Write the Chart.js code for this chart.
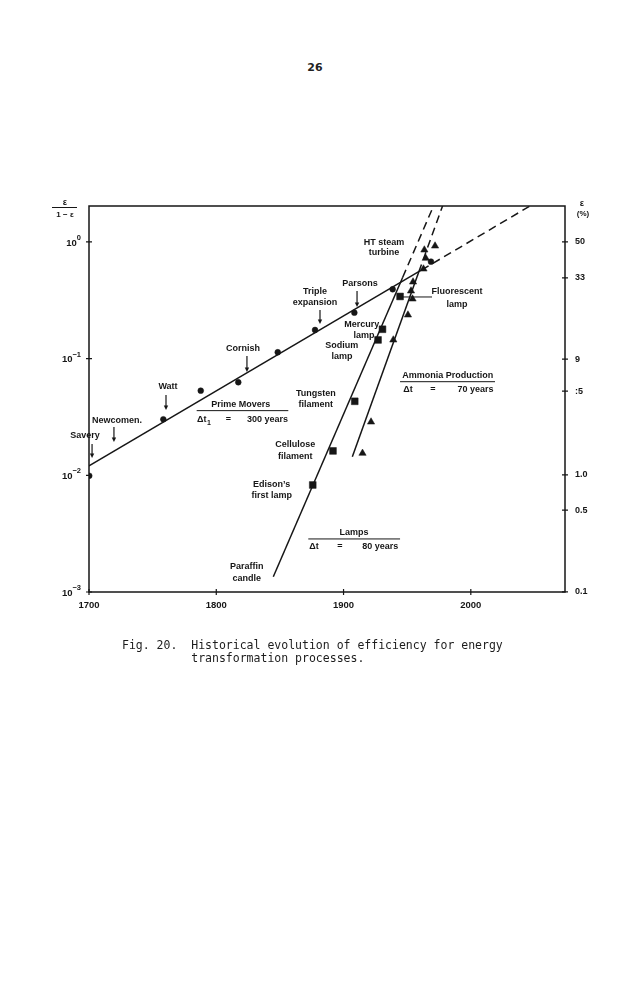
<!DOCTYPE html>
<html>
<head>
<meta charset="utf-8">
<title>Fig. 20</title>
<script src="https://cdn.jsdelivr.net/npm/chart.js@4.4.1/dist/chart.umd.min.js"></script>
<style>
  html, body { margin: 0; padding: 0; background: #fff; }
  body { width: 638px; height: 1000px; position: relative; overflow: hidden; }
  #chart { position: absolute; left: 0; top: 0; }
  .page-num {
    position: absolute; top: 61px; left: 0; width: 630px; text-align: center;
    font: bold 11px "DejaVu Sans", sans-serif; color: #222;
  }
  .caption {
    position: absolute; left: 122px; top: 639px; margin: 0;
    font: 11.5px/13.3px "DejaVu Sans Mono", monospace; color: #1c1c1c; white-space: pre;
  }
</style>
</head>
<body>
<div class="page-num">26</div>
<canvas id="chart" width="638" height="1000"></canvas>
<pre class="caption">Fig. 20.  Historical evolution of efficiency for energy
          transformation processes.</pre>
<script>
"use strict";

const INK = "#161616";
const FONT = "'Liberation Sans', Arial, sans-serif";

// Prime movers (circles): year, efficiency ratio e/(1-e)
const primeYears = [1700.2, 1758.4, 1787.8, 1817.3, 1848.3, 1877.6, 1908.5, 1938.6, 1968.7];
const primeValues = [0.0099, 0.0302, 0.0531, 0.0627, 0.1133, 0.1759, 0.2475, 0.3927, 0.6771];

// Lamps (squares)
const lampYears = [1875.8, 1891.7, 1908.8, 1927.1, 1930.6, 1944.4];
const lampValues = [0.00826, 0.01618, 0.04306, 0.1445, 0.1784, 0.3407];

// Ammonia production (triangles)
const ammoniaYears = [1914.9, 1921.6, 1939.1, 1950.6, 1954.2, 1953.0, 1954.6, 1962.8, 1964.6, 1963.5, 1971.9];
const ammoniaValues = [0.01545, 0.02864, 0.1445, 0.2366, 0.3243, 0.38, 0.4538, 0.5861, 0.7244, 0.8531, 0.9226];

// Trend lines: start, end of solid part, end of dashed extrapolation
const primeFitYears = [1700, 1961.4, 2046.5];
const primeFitValues = [0.01202, 0.575, 2.03];
const lampFitYears = [1844.8, 1946.5, 1970.7];
const lampFitValues = [0.001352, 0.498, 2.03];
const ammoniaFitYears = [1906.9, 1959.1, 1977.8];
const ammoniaFitValues = [0.01445, 0.552, 2.03];

// Axes
const yearTicks = [1700, 1800, 1900, 2000];
const ratioTicks = [1, 0.1, 0.01, 0.001];
const ratioExponents = ["0", "\u22121", "\u22122", "\u22123"];
const percentTicks = [50, 33, 9, 5, 1, 0.5, 0.1];
const percentLabels = ["50", "33", "9", ":5", "1.0", "0.5", "0.1"];

// Text annotations, placed in data coordinates (year, ratio)
const notes = [
  { text: "Savery", x: 1696.9, y: 0.02173 },
  { text: "Newcomen.", x: 1722.0, y: 0.02924 },
  { text: "Watt", x: 1762.1, y: 0.05715 },
  { text: "Cornish", x: 1821.0, y: 0.121 },
  { text: "Triple", x: 1877.6, y: 0.3724 },
  { text: "expansion", x: 1877.6, y: 0.2999 },
  { text: "Parsons", x: 1912.9, y: 0.4363 },
  { text: "HT steam", x: 1931.8, y: 0.9795 },
  { text: "turbine", x: 1931.8, y: 0.8039 },
  { text: "Fluorescent", x: 1989.2, y: 0.3724 },
  { text: "lamp", x: 1989.2, y: 0.2884 },
  { text: "Mercury", x: 1914.3, y: 0.1941 },
  { text: "lamp", x: 1916.1, y: 0.1573 },
  { text: "Sodium", x: 1898.6, y: 0.1283 },
  { text: "lamp", x: 1898.8, y: 0.1039 },
  { text: "Ammonia Production", x: 1981.8, y: 0.07145 },
  { text: "\u0394t", x: 1950.6, y: 0.05383 },
  { text: "=", x: 1970.1, y: 0.05383 },
  { text: "70 years", x: 2003.7, y: 0.05383 },
  { text: "Tungsten", x: 1878.2, y: 0.04977 },
  { text: "filament", x: 1878.2, y: 0.04009 },
  { text: "Prime Movers", x: 1819.3, y: 0.04009 },
  { text: "\u0394t", sub: "1", x: 1788.6, y: 0.02979 },
  { text: "=", x: 1809.5, y: 0.02979 },
  { text: "300 years", x: 1840.3, y: 0.02979 },
  { text: "Cellulose", x: 1862.0, y: 0.0182 },
  { text: "filament", x: 1862.0, y: 0.01445 },
  { text: "Edison\u2019s", x: 1843.5, y: 0.008265 },
  { text: "first lamp", x: 1843.5, y: 0.006653 },
  { text: "Paraffin", x: 1823.9, y: 0.001648 },
  { text: "candle", x: 1823.9, y: 0.001312 },
  { text: "Lamps", x: 1908.2, y: 0.003225 },
  { text: "\u0394t", x: 1876.8, y: 0.002449 },
  { text: "=", x: 1897.2, y: 0.002449 },
  { text: "80 years", x: 1928.9, y: 0.002449 },
];

// Downward arrows pointing at the prime movers line
const arrows = [
  { x: 1702.4, from: 0.01858, to: 0.01409 },
  { x: 1719.6, from: 0.02594, to: 0.01932 },
  { x: 1760.5, from: 0.04875, to: 0.03631 },
  { x: 1824.1, from: 0.1054, to: 0.07684 },
  { x: 1881.5, from: 0.2612, to: 0.1982 },
  { x: 1910.6, from: 0.38, to: 0.2772 },
];

// Horizontal rules (fraction bars and the fluorescent leader)
const rules = [
  { from: 1944.4, to: 2019.0, y: 0.06339 },
  { from: 1784.6, to: 1856.6, y: 0.03581 },
  { from: 1872.3, to: 1944.4, y: 0.002848 },
  { from: 1946.7, to: 1969.5, y: 0.3373 },
];

function toPoints(xs, ys) {
  return xs.map((x, i) => ({ x, y: ys[i] }));
}

function fitLine(xs, ys) {
  return {
    type: "line",
    data: toPoints(xs, ys),
    borderColor: INK,
    borderWidth: 1.5,
    pointRadius: 0,
    fill: false,
    tension: 0,
    segment: {
      borderDash: (ctx) => (ctx.p0DataIndex >= 1 ? [8, 5] : undefined),
    },
  };
}

function markers(xs, ys, style, radius) {
  return {
    type: "scatter",
    data: toPoints(xs, ys),
    pointStyle: style,
    pointRadius: radius,
    backgroundColor: INK,
    borderColor: INK,
    borderWidth: 0.5,
  };
}

const annotationPlugin = {
  id: "annotations",
  afterDraw(chart) {
    const { ctx, chartArea: area, scales } = chart;
    const sx = scales.x;
    const sy = scales.y;
    const sr = scales.y2;
    const px = (v) => sx.getPixelForValue(v);
    const py = (v) => sy.getPixelForValue(v);

    ctx.save();
    ctx.strokeStyle = INK;
    ctx.fillStyle = INK;

    // frame
    ctx.lineWidth = 1.5;
    ctx.strokeRect(area.left, area.top, area.right - area.left, area.bottom - area.top);

    // tick marks crossing the axes
    ctx.lineWidth = 1.2;
    ctx.beginPath();
    sx.ticks.forEach((t) => {
      const x = px(t.value);
      ctx.moveTo(x, area.bottom - 3);
      ctx.lineTo(x, area.bottom + 3);
    });
    sy.ticks.forEach((t) => {
      const y = py(t.value);
      ctx.moveTo(area.left - 3, y);
      ctx.lineTo(area.left + 3, y);
    });
    sr.ticks.forEach((t) => {
      const y = sr.getPixelForValue(t.value);
      ctx.moveTo(area.right - 3, y);
      ctx.lineTo(area.right + 3, y);
    });
    ctx.stroke();

    // left tick labels: 10 with superscript exponent
    ctx.textBaseline = "middle";
    sy.ticks.forEach((t, i) => {
      const y = py(t.value);
      const exp = ratioExponents[i];
      ctx.font = "bold 7.5px " + FONT;
      const ew = ctx.measureText(exp).width;
      const right = area.left - 8;
      ctx.textAlign = "left";
      ctx.fillText(exp, right - ew, y - 4);
      ctx.font = "bold 9.5px " + FONT;
      ctx.textAlign = "right";
      ctx.fillText("10", right - ew, y + 1);
    });

    // axis headers
    ctx.textAlign = "center";
    ctx.font = "bold 9px " + FONT;
    ctx.fillText("\u03b5", area.left - 24, area.top - 3);
    ctx.font = "bold 8px " + FONT;
    ctx.fillText("1 \u2212 \u03b5", area.left - 24, area.top + 9);
    ctx.lineWidth = 1;
    ctx.beginPath();
    ctx.moveTo(area.left - 37, area.top + 1.5);
    ctx.lineTo(area.left - 12, area.top + 1.5);
    ctx.stroke();
    ctx.font = "bold 9px " + FONT;
    ctx.fillText("\u03b5", area.right + 17, area.top - 2);
    ctx.font = "bold 8px " + FONT;
    ctx.fillText("(%)", area.right + 18, area.top + 8);

    // annotations
    ctx.font = "bold 9px " + FONT;
    notes.forEach((n) => {
      const x = px(n.x);
      const y = py(n.y);
      if (n.sub) {
        const w = ctx.measureText(n.text).width;
        ctx.textAlign = "right";
        ctx.fillText(n.text, x + w / 2, y);
        ctx.font = "bold 7px " + FONT;
        ctx.textAlign = "left";
        ctx.fillText(n.sub, x + w / 2 + 0.5, y + 3);
        ctx.font = "bold 9px " + FONT;
      } else {
        ctx.textAlign = "center";
        ctx.fillText(n.text, x, y);
      }
    });

    // arrows
    ctx.lineWidth = 1.2;
    arrows.forEach((a) => {
      const x = px(a.x);
      const y0 = py(a.from);
      const y1 = py(a.to);
      ctx.beginPath();
      ctx.moveTo(x, y0);
      ctx.lineTo(x, y1 - 3);
      ctx.stroke();
      ctx.beginPath();
      ctx.moveTo(x - 2.2, y1 - 4.5);
      ctx.lineTo(x + 2.2, y1 - 4.5);
      ctx.lineTo(x, y1);
      ctx.closePath();
      ctx.fill();
    });

    // rules
    ctx.lineWidth = 1;
    ctx.beginPath();
    rules.forEach((r) => {
      const y = py(r.y);
      ctx.moveTo(px(r.from), y);
      ctx.lineTo(px(r.to), y);
    });
    ctx.stroke();

    ctx.restore();
  },
};

const chart = new Chart(document.getElementById("chart"), {
  type: "scatter",
  data: {
    datasets: [
      fitLine(primeFitYears, primeFitValues),
      fitLine(lampFitYears, lampFitValues),
      fitLine(ammoniaFitYears, ammoniaFitValues),
      markers(primeYears, primeValues, "circle", 2.9),
      markers(lampYears, lampValues, "rect", 4.8),
      markers(ammoniaYears, ammoniaValues, "triangle", 4.2),
    ],
  },
  options: {
    responsive: false,
    animation: false,
    events: [],
    layout: { padding: { left: 0, right: 0, top: 206, bottom: 378 } },
    plugins: {
      legend: { display: false },
      tooltip: { enabled: false },
    },
    scales: {
      x: {
        type: "linear",
        min: 1700,
        max: 2074,
        afterBuildTicks: (scale) => {
          scale.ticks = yearTicks.map((v) => ({ value: v }));
        },
        afterFit: (scale) => {
          scale.height = 30;
        },
        ticks: {
          color: INK,
          font: { family: FONT, size: 9.5, weight: "bold" },
          padding: 8,
          maxRotation: 0,
          autoSkip: false,
          callback: (v) => String(v),
        },
        grid: { display: false, drawTicks: false },
        border: { display: false },
      },
      y: {
        type: "logarithmic",
        position: "left",
        min: 0.001,
        max: 2.03,
        afterBuildTicks: (scale) => {
          scale.ticks = ratioTicks.map((v) => ({ value: v }));
        },
        afterFit: (scale) => {
          scale.width = 89;
        },
        ticks: { display: false },
        grid: { display: false, drawTicks: false },
        border: { display: false },
      },
      y2: {
        type: "logarithmic",
        position: "right",
        min: 0.001,
        max: 2.03,
        afterBuildTicks: (scale) => {
          scale.ticks = percentTicks.map((p) => ({ value: p / (100 - p) }));
        },
        afterFit: (scale) => {
          scale.width = 73;
        },
        ticks: {
          color: INK,
          font: { family: FONT, size: 9, weight: "bold" },
          padding: 10,
          autoSkip: false,
          callback: (v, i) => percentLabels[i],
        },
        grid: { display: false, drawTicks: false },
        border: { display: false },
      },
    },
  },
  plugins: [annotationPlugin],
});
</script>
</body>
</html>
